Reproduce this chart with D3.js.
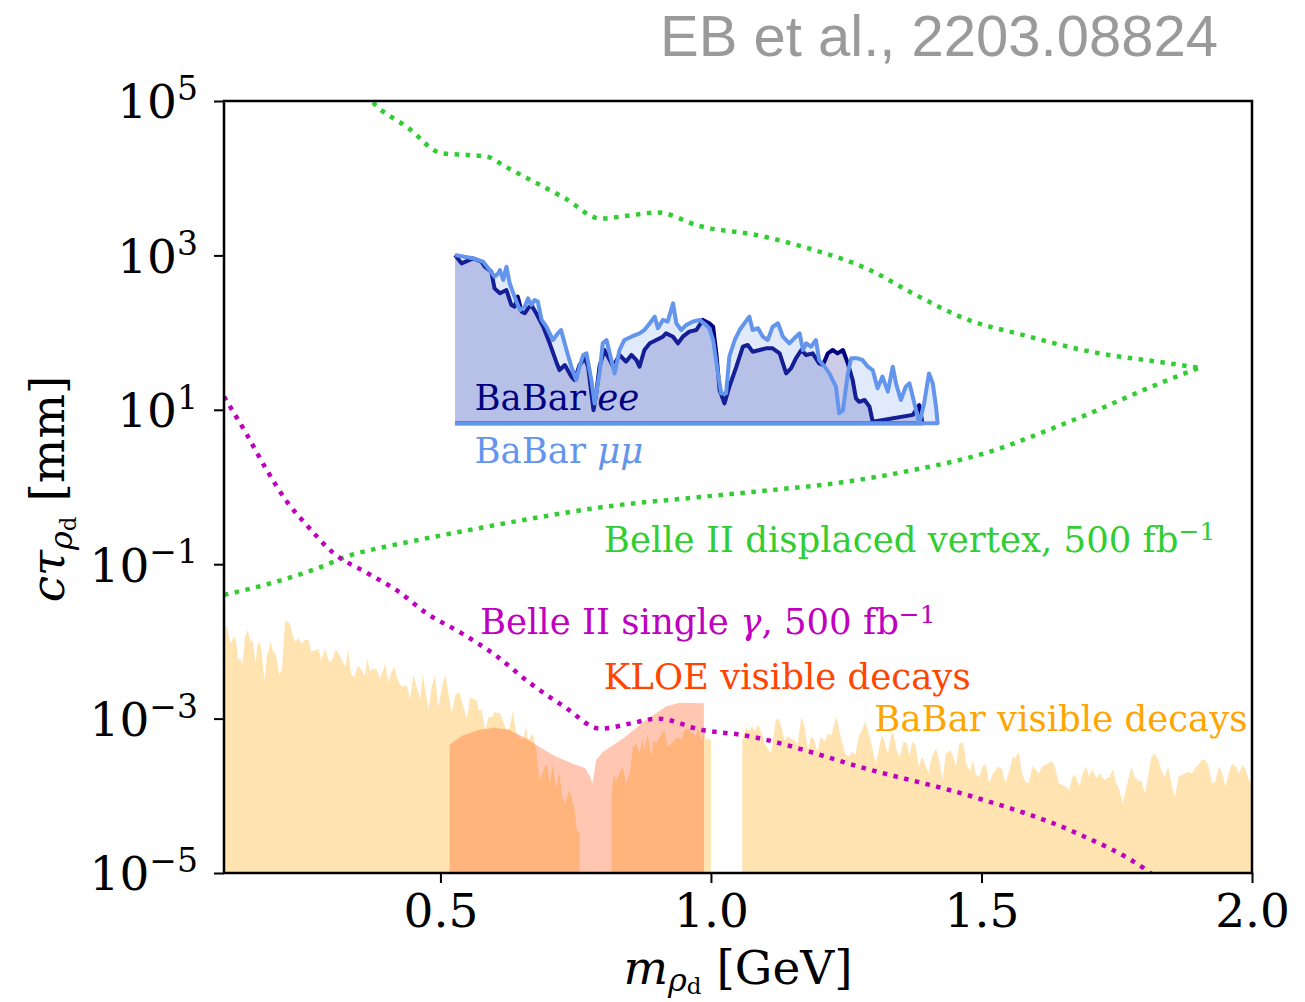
<!DOCTYPE html>
<html>
<head>
<meta charset="utf-8">
<script src="https://cdn.jsdelivr.net/npm/d3@7"></script>
<style>
  body { margin: 0; background: #fff; }
  svg text { font-family: "DejaVu Serif", serif; }
</style>
</head>
<body>
<svg id="chart" width="1305" height="1002"></svg>
<script>

  // tick values
  var massTicks = [0.5, 1.0, 1.5, 2.0];
  var ctauTicks = [1e-5, 1e-3, 1e-1, 1e1, 1e3, 1e5];

  // Belle II displaced vertex projection (upper and lower branch), [m GeV, ctau mm]
  var belleDvUpper = [[0.35,1.6e5],[0.373,1.0e5],[0.44,4.5e4],[0.503,2.1e4],[0.55,2.0e4],[0.586,1.9e4],
    [0.621,1.4e4],[0.73,5.5e3],[0.796,3.0e3],[0.85,3.3e3],[0.901,3.6e3],[0.979,2.4e3],[1.09,1.8e3],
    [1.176,1.26e3],[1.293,650],[1.374,320],[1.477,145],[1.572,95],[1.705,56],[1.836,41],[1.902,35]];
  var belleDvLower = [[0.1,4.0e-2],[0.18,5.5e-2],[0.27,8.7e-2],[0.333,0.13],[0.394,0.166],[0.45,0.2],
    [0.52,0.25],[0.65,0.37],[0.8,0.55],[0.979,0.74],[1.11,0.91],[1.243,1.15],[1.374,1.66],[1.507,2.75],
    [1.638,6.0],[1.705,9.3],[1.771,14.8],[1.836,23],[1.902,35]];

  // Belle II single photon projection
  var belleGamma = [[0.1,14.8],[0.142,4.8],[0.179,1.66],[0.216,0.65],[0.253,0.32],[0.302,0.14],
    [0.363,7.8e-2],[0.419,4.6e-2],[0.475,2.3e-2],[0.538,1.29e-2],[0.602,6.6e-3],[0.665,2.9e-3],
    [0.73,1.41e-3],[0.796,7.4e-4],[0.85,8.6e-4],[0.901,1.0e-3],[0.984,7.1e-4],[1.053,6.2e-4],
    [1.302,2.1e-4],[1.489,9.5e-5],[1.675,3.3e-5],[1.804,1.1e-5],[1.83,8e-6]];

  // KLOE visible decays
  var kloeVis = [[0.517,4.6e-4],[0.54,6.0e-4],[0.57,7.1e-4],[0.60,7.6e-4],[0.625,7.2e-4],[0.653,5.8e-4],
    [0.683,4.3e-4],[0.714,3.2e-4],[0.751,2.5e-4],[0.767,2.3e-4],[0.776,1.8e-4],[0.781,1.45e-4],
    [0.788,2.9e-4],[0.800,3.7e-4],[0.837,5.5e-4],[0.880,9.6e-4],[0.917,1.43e-3],[0.942,1.6e-3],
    [0.985,1.58e-3],[0.987,1.58e-3]];

  // BaBar visible decays (three pieces, gaps at the omega and phi)
  var babarVisLow = [[0.1,1.6e-2],[0.105,1.55e-2],[0.112,9.4e-3],[0.118,1.15e-2],[0.122,1.04e-2],
    [0.126,5.7e-3],[0.130,6.0e-3],[0.134,5.0e-3],[0.139,1.15e-2],[0.144,1.4e-2],[0.149,9.9e-3],
    [0.153,1.04e-2],[0.158,5.2e-3],[0.163,9.9e-3],[0.167,9.4e-3],[0.171,5.7e-3],[0.175,3.0e-3],
    [0.179,6.3e-3],[0.186,9.9e-3],[0.190,7.7e-3],[0.194,7.0e-3],[0.198,5.7e-3],[0.202,3.7e-3],
    [0.207,4.3e-3],[0.213,1.86e-2],[0.222,1.7e-2],[0.227,1.2e-2],[0.232,9.9e-3],[0.238,1.1e-2],
    [0.244,9.4e-3],[0.250,1.06e-2],[0.256,1.04e-2],[0.261,7.4e-3],[0.269,7.7e-3],[0.275,7.9e-3],
    [0.280,5.7e-3],[0.287,8.1e-3],[0.293,5.7e-3],[0.299,5.5e-3],[0.306,7.7e-3],[0.312,7.0e-3],
    [0.318,5.7e-3],[0.324,4.7e-3],[0.330,7.7e-3],[0.335,3.7e-3],[0.341,3.5e-3],[0.347,4.8e-3],
    [0.355,4.3e-3],[0.360,3.5e-3],[0.365,6.0e-3],[0.370,4.1e-3],[0.376,4.5e-3],[0.382,4.3e-3],
    [0.389,3.3e-3],[0.398,5.2e-3],[0.404,3.0e-3],[0.410,4.1e-3],[0.415,4.7e-3],[0.419,3.5e-3],
    [0.426,2.7e-3],[0.432,2.6e-3],[0.438,2.7e-3],[0.444,1.8e-3],[0.450,3.7e-3],[0.456,2.6e-3],
    [0.463,1.8e-3],[0.467,3.8e-3],[0.472,2.35e-3],[0.478,1.3e-3],[0.484,2.6e-3],[0.490,3.7e-3],
    [0.496,1.4e-3],[0.503,2.6e-3],[0.509,3.7e-3],[0.514,2.35e-3],[0.521,1.17e-3],[0.527,2.0e-3],
    [0.535,2.2e-3],[0.540,1.6e-3],[0.549,1.0e-3],[0.555,1.9e-3],[0.561,1.8e-3],[0.567,1.74e-3],
    [0.570,1.3e-3],[0.576,1.3e-3],[0.583,7.1e-4],[0.589,1.04e-3],[0.596,1.06e-3],[0.600,1.23e-3],
    [0.605,1.17e-3],[0.610,1.19e-3],[0.615,9.6e-4],[0.622,7.1e-4],[0.628,7.5e-4],[0.634,1.27e-3],
    [0.640,6.4e-4],[0.653,5.3e-4],[0.658,7.9e-4],[0.662,5.3e-4],[0.671,6.4e-4],[0.677,3.9e-4],
    [0.683,1.6e-4],[0.688,1.95e-4],[0.693,2.4e-4],[0.697,2.5e-4],[0.702,1.45e-4],[0.708,2.6e-4],
    [0.713,1.2e-4],[0.720,2.05e-4],[0.725,9.7e-5],[0.731,8.0e-5],[0.738,1.2e-4],[0.742,9.7e-5],
    [0.748,6.5e-5],[0.752,3.6e-5],[0.757,3.3e-5]];
  var babarVisMid = [[0.816,8.8e-5],[0.820,1.95e-4],[0.825,1.6e-4],[0.831,1.95e-4],[0.837,2.4e-4],
    [0.843,1.45e-4],[0.850,1.95e-4],[0.856,4.3e-4],[0.862,4.8e-4],[0.868,3.5e-4],[0.873,5.3e-4],
    [0.877,3.9e-4],[0.883,6.4e-4],[0.890,3.2e-4],[0.894,5.3e-4],[0.899,4.8e-4],[0.905,5.8e-4],
    [0.910,6.4e-4],[0.914,7.1e-4],[0.920,4.3e-4],[0.927,4.8e-4],[0.933,5.3e-4],[0.939,5.8e-4],
    [0.945,5.3e-4],[0.951,6.8e-4],[0.955,7.5e-4],[0.960,7.1e-4],[0.967,6.4e-4],[0.971,5.8e-4],
    [0.976,7.5e-4],[0.982,5.3e-4],[0.988,7.5e-4],[0.991,5.3e-4],[0.997,5.5e-4],[1.000,5.3e-4]];
  var babarVisHigh = [[1.058,5.3e-4],[1.065,7.7e-4],[1.071,6.8e-4],[1.076,8.0e-4],[1.081,6.8e-4],
    [1.087,8.3e-4],[1.093,6.8e-4],[1.099,4.8e-4],[1.111,3.5e-4],[1.120,9.6e-4],[1.125,1.0e-3],
    [1.130,7.9e-4],[1.136,5.3e-4],[1.142,5.8e-4],[1.148,5.5e-4],[1.154,5.3e-4],[1.160,4.5e-4],
    [1.167,1.06e-3],[1.173,7.9e-4],[1.179,3.9e-4],[1.185,5.8e-4],[1.191,5.3e-4],[1.197,3.7e-4],
    [1.203,5.8e-4],[1.210,5.0e-4],[1.216,6.4e-4],[1.222,6.1e-4],[1.227,7.9e-4],[1.232,1.08e-3],
    [1.237,7.1e-4],[1.243,4.8e-4],[1.248,3.5e-4],[1.255,3.2e-4],[1.261,3.7e-4],[1.267,3.4e-4],
    [1.273,5.8e-4],[1.279,7.1e-4],[1.285,9.1e-4],[1.292,6.4e-4],[1.298,4.3e-4],[1.304,2.6e-4],
    [1.310,3.9e-4],[1.316,6.1e-4],[1.320,5.3e-4],[1.327,3.5e-4],[1.333,6.1e-4],[1.337,6.8e-4],
    [1.343,3.9e-4],[1.349,3.2e-4],[1.356,5.0e-4],[1.362,4.8e-4],[1.367,3.2e-4],[1.372,5.0e-4],
    [1.378,4.5e-4],[1.384,2.4e-4],[1.390,3.2e-4],[1.396,2.6e-4],[1.402,1.95e-4],[1.408,3.2e-4],
    [1.416,4.1e-4],[1.422,2.8e-4],[1.428,1.6e-4],[1.434,3.5e-4],[1.442,3.9e-4],[1.448,3.2e-4],
    [1.453,2.4e-4],[1.459,4.8e-4],[1.466,4.9e-4],[1.472,2.6e-4],[1.479,2.05e-4],[1.484,2.9e-4],
    [1.490,1.86e-4],[1.496,1.77e-4],[1.502,2.4e-4],[1.508,2.6e-4],[1.514,1.45e-4],[1.520,1.86e-4],
    [1.527,2.2e-4],[1.531,2.4e-4],[1.538,2.2e-4],[1.544,1.45e-4],[1.550,1.95e-4],[1.558,3.2e-4],
    [1.562,3.05e-4],[1.569,3.7e-4],[1.575,1.95e-4],[1.581,1.52e-4],[1.587,1.45e-4],[1.594,2.4e-4],
    [1.600,2.2e-4],[1.606,1.95e-4],[1.612,2.4e-4],[1.622,2.6e-4],[1.631,2.8e-4],[1.637,2.2e-4],
    [1.643,1.45e-4],[1.650,1.38e-4],[1.656,1.31e-4],[1.662,1.19e-4],[1.668,1.77e-4],[1.674,1.86e-4],
    [1.681,1.31e-4],[1.687,1.95e-4],[1.693,2.4e-4],[1.699,1.77e-4],[1.705,2.2e-4],[1.712,1.68e-4],
    [1.718,1.95e-4],[1.727,1.6e-4],[1.737,1.77e-4],[1.743,2.2e-4],[1.749,1.45e-4],[1.755,1.19e-4],
    [1.761,8.0e-5],[1.768,1.31e-4],[1.777,2.4e-4],[1.783,1.77e-4],[1.789,1.6e-4],[1.796,1.52e-4],
    [1.802,1.08e-4],[1.808,1.77e-4],[1.814,3.2e-4],[1.820,3.5e-4],[1.827,2.9e-4],[1.833,2.05e-4],
    [1.839,1.77e-4],[1.845,2.4e-4],[1.852,1.31e-4],[1.858,9.7e-5],[1.864,1.77e-4],[1.870,1.86e-4],
    [1.876,1.95e-4],[1.883,2.05e-4],[1.889,1.95e-4],[1.895,2.3e-4],[1.901,2.5e-4],[1.907,2.9e-4],
    [1.914,2.9e-4],[1.920,2.4e-4],[1.926,1.45e-4],[1.932,1.52e-4],[1.939,2.4e-4],[1.945,1.95e-4],
    [1.951,1.31e-4],[1.957,1.95e-4],[1.963,2.6e-4],[1.970,2.4e-4],[1.976,1.95e-4],[1.982,2.5e-4],
    [1.988,2.2e-4],[1.994,1.6e-4],[2.0,1.45e-4]];

  // BaBar displaced limits
  var babarBase = 6.7;
  var babarEE = [[0.527,1010],[0.539,789],[0.560,916],[0.576,829],[0.582,714],[0.594,615],[0.600,374],
    [0.610,323],[0.622,356],[0.631,228],[0.637,217],[0.643,292],[0.650,187],[0.656,178],[0.662,206],
    [0.668,228],[0.677,178],[0.690,119],[0.702,72.6],[0.714,42.0],[0.720,32.7],[0.730,38.0],[0.742,26.9],
    [0.748,24.3],[0.757,38.0],[0.767,46.4],[0.773,36.2],[0.779,16.3],[0.783,9.9],[0.788,16.3],[0.794,36.2],
    [0.803,59.5],[0.813,44.2],[0.819,36.2],[0.831,51.3],[0.843,42.0],[0.853,51.3],[0.862,44.2],[0.868,36.2],
    [0.877,59.5],[0.887,72.6],[0.899,80.2],[0.911,88.5],[0.917,97.8],[0.930,88.5],[0.939,72.6],[0.948,88.5],
    [0.960,103],[0.973,108],[0.985,146],[0.997,132],[1.004,119],[1.010,53.8],[1.016,18.0],[1.025,12.1],
    [1.034,19.9],[1.047,36.2],[1.059,65.7],[1.068,69.1],[1.077,56.6],[1.090,59.5],[1.102,62.5],[1.114,62.5],
    [1.127,53.8],[1.139,29.6],[1.148,34.4],[1.157,46.4],[1.167,59.5],[1.176,51.3],[1.188,53.8],[1.200,40.0],
    [1.207,38.0],[1.216,53.8],[1.225,59.5],[1.234,53.8],[1.244,59.5],[1.253,40.0],[1.262,24.3],[1.268,14.1],
    [1.274,12.7],[1.284,13.4],[1.293,11.0],[1.299,7.0],[1.373,8.6],[1.385,11.5],[1.391,6.7]];
  var babarMuMu = [[0.527,1010],[0.560,916],[0.579,829],[0.591,647],[0.600,531],[0.607,586],[0.610,647],
    [0.616,480],[0.622,714],[0.628,435],[0.637,292],[0.647,196],[0.656,217],[0.662,278],[0.668,228],
    [0.674,264],[0.680,252],[0.687,146],[0.696,119],[0.708,80.2],[0.717,97.8],[0.723,108],[0.733,59.5],
    [0.742,36.2],[0.751,24.3],[0.757,36.2],[0.764,51.3],[0.770,53.8],[0.779,24.3],[0.785,12.1],[0.794,29.6],
    [0.800,72.6],[0.807,80.2],[0.813,53.8],[0.822,29.6],[0.831,59.5],[0.840,80.2],[0.853,88.5],[0.868,97.8],
    [0.877,108],[0.887,132],[0.896,161],[0.902,114],[0.911,146],[0.920,139],[0.930,239],[0.936,132],
    [0.945,108],[0.954,125],[0.967,139],[0.979,146],[0.991,125],[0.997,114],[1.004,80.2],[1.013,29.6],
    [1.019,16.3],[1.028,16.3],[1.034,48.8],[1.044,80.2],[1.053,108],[1.062,132],[1.071,161],[1.077,108],
    [1.087,114],[1.096,88.5],[1.105,80.2],[1.114,119],[1.124,132],[1.133,88.5],[1.145,72.6],[1.154,84.3],
    [1.164,97.8],[1.170,59.5],[1.176,72.6],[1.185,65.7],[1.194,80.2],[1.200,44.2],[1.210,36.2],[1.219,29.6],
    [1.231,19.9],[1.237,9.0],[1.244,9.9],[1.253,29.6],[1.259,46.4],[1.271,46.4],[1.280,44.2],[1.290,36.2],
    [1.299,32.7],[1.308,19.0],[1.317,26.9],[1.327,17.2],[1.336,36.2],[1.342,22.0],[1.351,13.4],[1.360,19.9],
    [1.367,22.0],[1.373,14.8],[1.385,6.7],[1.394,12.1],[1.403,29.6],[1.410,22.0],[1.416,11.0],[1.419,6.7]];

  var svg = d3.select('#chart');

  var x = d3.scaleLinear().domain([0.1, 2.0]).range([224, 1252]);
  var y = d3.scaleLog().domain([1e-5, 1e5]).range([873, 101]);

  svg.append('defs').append('clipPath').attr('id', 'plot-clip')
    .append('rect')
      .attr('x', x(0.1)).attr('y', y(1e5))
      .attr('width', x(2.0) - x(0.1)).attr('height', y(1e-5) - y(1e5));

  var plot = svg.append('g').attr('clip-path', 'url(#plot-clip)');

  var floorArea = d3.area()
    .x(function (d) { return x(d[0]); })
    .y0(y(1e-5))
    .y1(function (d) { return y(d[1]); });

  var line = d3.line()
    .x(function (d) { return x(d[0]); })
    .y(function (d) { return y(d[1]); });

  // BaBar visible decays, then KLOE on top
  [babarVisLow, babarVisMid, babarVisHigh].forEach(function (seg) {
    plot.append('path').attr('d', floorArea(seg))
      .attr('fill', 'orange').attr('fill-opacity', 0.3);
  });
  plot.append('path').attr('d', floorArea(kloeVis))
    .attr('fill', 'orangered').attr('fill-opacity', 0.3);

  // BaBar ee / mumu regions
  var babarArea = d3.area()
    .x(function (d) { return x(d[0]); })
    .y0(y(babarBase))
    .y1(function (d) { return y(d[1]); });

  [[babarEE, 'navy'], [babarMuMu, 'cornflowerblue']].forEach(function (s) {
    plot.append('path').attr('d', babarArea(s[0]))
      .attr('fill', s[1]).attr('fill-opacity', 0.2);
    var outline = s[0].concat([[s[0][0][0], babarBase]]);
    plot.append('path').attr('d', line(outline))
      .attr('fill', 'none').attr('stroke', s[1])
      .attr('stroke-width', 4).attr('stroke-linejoin', 'round');
  });

  // dotted projections
  var dotted = function (data, color) {
    plot.append('path').attr('d', line.curve(d3.curveMonotoneX)(data))
      .attr('fill', 'none').attr('stroke', color)
      .attr('stroke-width', 4.5).attr('stroke-dasharray', '4.5,6.5');
    line.curve(d3.curveLinear);
  };
  dotted(belleDvUpper, 'limegreen');
  dotted(belleDvLower, 'limegreen');
  dotted(belleGamma, '#bf00bf');

  // axes
  var xAxis = svg.append('g')
    .attr('transform', 'translate(0,' + y(1e-5) + ')')
    .call(d3.axisBottom(x).tickValues(massTicks).tickSize(10).tickPadding(11)
      .tickFormat(d3.format('.1f')));
  var yAxis = svg.append('g')
    .attr('transform', 'translate(' + x(0.1) + ',0)')
    .call(d3.axisLeft(y).tickValues(ctauTicks).tickSize(10).tickPadding(16));

  [xAxis, yAxis].forEach(function (a) {
    a.select('.domain').remove();
    a.selectAll('.tick line').attr('stroke', '#000').attr('stroke-width', 2);
    a.selectAll('.tick text').attr('fill', '#000')
      .style('font-family', '"DejaVu Serif", serif').style('font-size', '47px');
  });

  yAxis.selectAll('.tick text').each(function (d) {
    var t = d3.select(this).text('').attr('dy', '0.36em');
    t.append('tspan').text('10');
    t.append('tspan').attr('dy', '-0.55em').style('font-size', '33px')
      .text(String(Math.round(Math.log10(d))).replace('-', '\u2212'));
  });

  svg.append('rect')
    .attr('x', x(0.1)).attr('y', y(1e5))
    .attr('width', x(2.0) - x(0.1)).attr('height', y(1e-5) - y(1e5))
    .attr('fill', 'none').attr('stroke', '#000').attr('stroke-width', 2.5);

  // axis titles
  var xt = svg.append('text')
    .attr('x', 738).attr('y', 984).attr('text-anchor', 'middle')
    .style('font-size', '47px');
  xt.append('tspan').style('font-style', 'italic').text('m');
  xt.append('tspan').style('font-style', 'italic').style('font-size', '32px').attr('dy', 7).text('\u03c1');
  xt.append('tspan').style('font-size', '23px').attr('dy', 3).text('d');
  xt.append('tspan').attr('dy', -10).text(' [GeV]');

  var yt = svg.append('text')
    .attr('transform', 'translate(64,489) rotate(-90)').attr('text-anchor', 'middle')
    .style('font-size', '47px');
  yt.append('tspan').style('font-style', 'italic').text('c\u03c4');
  yt.append('tspan').style('font-style', 'italic').style('font-size', '32px').attr('dy', 8).text('\u03c1');
  yt.append('tspan').style('font-size', '23px').attr('dy', 4).text('d');
  yt.append('tspan').attr('dy', -12).text(' [mm]');

  // labels
  var label = function (m, c, color) {
    return svg.append('text').attr('x', x(m)).attr('y', y(c))
      .attr('fill', color).style('font-size', '35.5px');
  };
  var sup = function (t, s) {
    t.append('tspan').attr('dy', '-0.45em').style('font-size', '25px').text(s);
  };

  var l1 = label(0.563, 10, 'navy');
  l1.append('tspan').text('BaBar ');
  l1.append('tspan').style('font-style', 'italic').text('ee');

  var l2 = label(0.563, 2.04, 'cornflowerblue');
  l2.append('tspan').text('BaBar ');
  l2.append('tspan').style('font-style', 'italic').text('\u03bc\u03bc');

  var l3 = label(0.802, 0.145, 'limegreen');
  l3.append('tspan').text('Belle II displaced vertex, 500 fb');
  sup(l3, '\u22121');

  var l4 = label(0.573, 1.25e-2, '#bf00bf');
  l4.append('tspan').text('Belle II single ');
  l4.append('tspan').style('font-style', 'italic').text('\u03b3');
  l4.append('tspan').text(', 500 fb');
  sup(l4, '\u22121');

  label(0.802, 2.4e-3, 'orangered').text('KLOE visible decays');
  label(1.302, 6.9e-4, 'orange').text('BaBar visible decays');

  svg.append('text')
    .attr('x', 1218).attr('y', 56).attr('text-anchor', 'end')
    .attr('fill', '#9a9a9a')
    .style('font-family', '"Liberation Sans", Arial, sans-serif').style('font-size', '58px')
    .text('EB et al., 2203.08824');

</script>
</body>
</html>
